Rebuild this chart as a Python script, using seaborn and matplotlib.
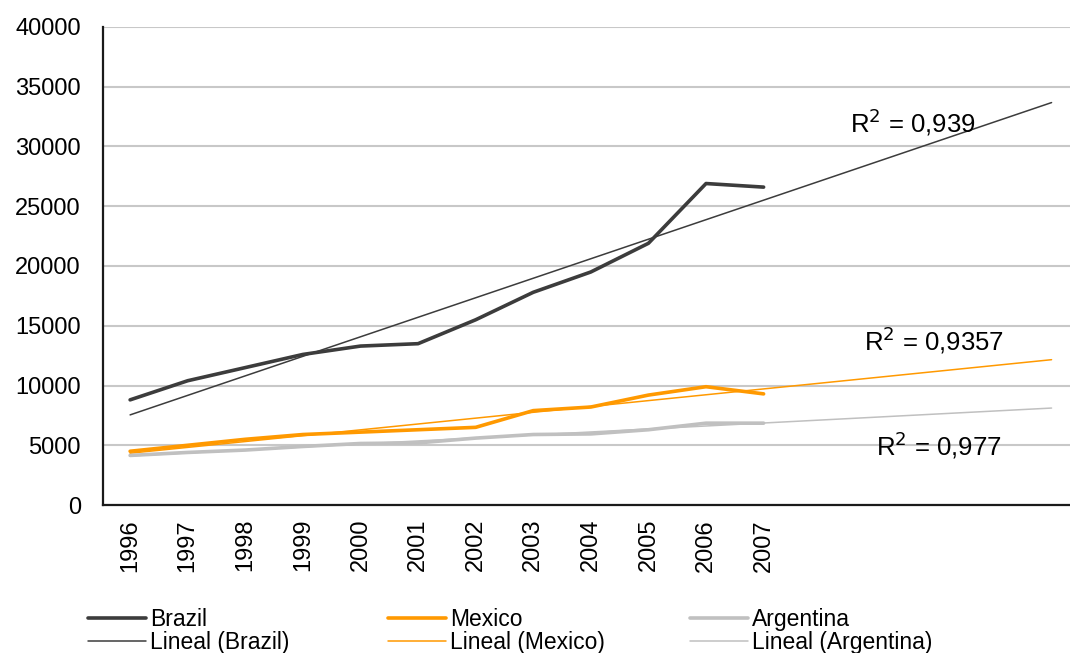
import matplotlib.pyplot as plt
import seaborn as sns
import pandas as pd
import numpy as np

years = ["1996", "1997", "1998", "1999", "2000", "2001",
         "2002", "2003", "2004", "2005", "2006", "2007"]
brazil = [8800, 10400, 11500, 12600, 13300, 13500, 15500, 17800, 19500, 21900, 26900, 26600]
mexico = [4500, 5000, 5500, 5900, 6100, 6300, 6500, 7900, 8200, 9200, 9900, 9300]
argentina = [4150, 4400, 4600, 4900, 5150, 5200, 5600, 5900, 5950, 6300, 6850, 6850]
r2_labels = ["0,939", "0,9357", "0,977"]
forecast_periods = 5

countries = ["Brazil", "Mexico", "Argentina"]
colors = {"Brazil": "#3c3c3c", "Mexico": "#ff9900", "Argentina": "#c0c0c0"}

data = pd.DataFrame({
    "idx": list(range(len(years))) * 3,
    "value": brazil + mexico + argentina,
    "country": np.repeat(countries, len(years)),
})

sns.set_style("white")
plt.rcParams["font.family"] = ["Liberation Sans", "DejaVu Sans"]
plt.rcParams["text.color"] = "black"
plt.rcParams["xtick.color"] = "black"
plt.rcParams["ytick.color"] = "black"

fig, ax = plt.subplots(figsize=(10.7, 6.53), dpi=100)
fig.subplots_adjust(left=0.0963, right=1.0, top=0.9587, bottom=0.2266)

handles = {}
for c in countries:
    sub = data[data["country"] == c]
    sns.lineplot(data=sub, x="idx", y="value", color=colors[c], linewidth=2.6,
                 ax=ax, legend=False)
    handles[c] = ax.lines[-1]
    # linear trend, extended like the spreadsheet's forecast
    k, b = np.polyfit(sub["idx"], sub["value"], 1)
    tx = np.arange(len(years) + forecast_periods)
    trend = pd.DataFrame({"idx": tx, "value": k * tx + b})
    sns.lineplot(data=trend, x="idx", y="value", color=colors[c], linewidth=1.1,
                 ax=ax, legend=False)
    handles["t" + c] = ax.lines[-1]

# R^2 labels
r2_pos = [(12.5, 32000), (12.75, 13800), (12.95, 5000)]
for (x, y), t in zip(r2_pos, r2_labels):
    ax.text(x, y, "R$^2$ = " + t, fontsize=18.5, va="center", ha="left")

ax.set_xlim(-0.47, 16.32)
ax.set_ylim(0, 40000)
ax.set_yticks(range(0, 40001, 5000))
ax.set_xticks(range(len(years)))
ax.set_xticklabels(years, rotation=90)
ax.tick_params(axis="both", length=0, labelsize=17)
ax.tick_params(axis="y", pad=16)
ax.tick_params(axis="x", pad=10)
ax.set_xlabel("")
ax.set_ylabel("")
ax.yaxis.grid(True, color="#c8c8c8", linewidth=1.5)
ax.set_axisbelow(True)
for s in ["top", "right"]:
    ax.spines[s].set_visible(False)
for s in ["left", "bottom"]:
    ax.spines[s].set_color("#1a1a1a")
    ax.spines[s].set_linewidth(1.6)

# one two-row legend block per country
leg_x = [0.0822, 0.3626, 0.6449]
for c, x in zip(countries, leg_x):
    fig.legend([handles[c], handles["t" + c]], [c, f"Lineal ({c})"],
               loc="center left", bbox_to_anchor=(x, 0.034), frameon=False,
               fontsize=16.5, labelspacing=0.0, handlelength=2.55,
               handletextpad=0.15, borderpad=0, borderaxespad=0)

plt.savefig("out.png", dpi=100)
plt.close()
